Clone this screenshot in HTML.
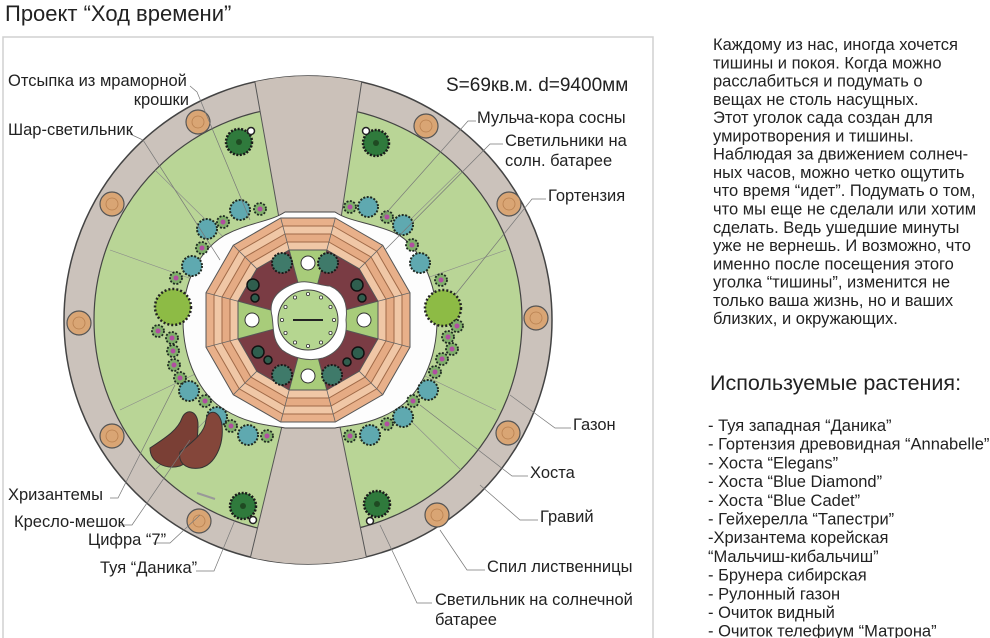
<!DOCTYPE html>
<html><head><meta charset="utf-8"><style>
html,body{margin:0;padding:0;background:#fff;}
svg{display:block;font-family:"Liberation Sans",sans-serif;}
</style></head><body>
<svg width="990" height="638" viewBox="0 0 990 638" xmlns="http://www.w3.org/2000/svg">
<defs>
<clipPath id="outer"><circle cx="308" cy="320" r="244"/></clipPath>
<g id="shB"><circle r="10" fill="#5fa9b0" stroke="#1f2a22" stroke-width="2" stroke-dasharray="2 1.5"/></g>
<g id="shP"><circle r="6" fill="#7fae6a" stroke="#1f2a22" stroke-width="1.8" stroke-dasharray="2 1.5"/><circle r="2.5" fill="#b04fa0"/></g>
<g id="shT"><circle r="10" fill="#3f7a6a" stroke="#1a1a1a" stroke-width="2" stroke-dasharray="2 1.5"/></g>
<g id="stump"><circle r="12" fill="#d9a574" stroke="#555" stroke-width="1.2"/><circle r="6" fill="none" stroke="#b88050" stroke-width="0.8"/></g>
<g id="thuja"><circle r="13" fill="#2f7a3c" stroke="#1a1a1a" stroke-width="2.5" stroke-dasharray="2 1.5"/><circle r="3" fill="#1f4a22"/></g>
</defs>
<rect width="990" height="638" fill="#fff"/>
<rect x="3" y="37" width="650" height="610" fill="none" stroke="#d0d0d0" stroke-width="1.5"/>
<text x="5" y="21" font-size="22" fill="#222">Проект “Ход времени”</text>

<circle cx="308" cy="320" r="244" fill="#cbc2bb" stroke="#444" stroke-width="1.5"/>
<circle cx="308" cy="320" r="214" fill="#b9d596" stroke="#444" stroke-width="1.2"/>
<g stroke="#8a8a8a" stroke-width="0.6">
<line x1="308" y1="320" x2="155" y2="170"/><line x1="308" y1="320" x2="461" y2="170"/>
<line x1="308" y1="320" x2="155" y2="470"/><line x1="308" y1="320" x2="461" y2="470"/>
<line x1="308" y1="320" x2="110" y2="250"/><line x1="308" y1="320" x2="506" y2="250"/>
<line x1="308" y1="320" x2="120" y2="410"/><line x1="308" y1="320" x2="496" y2="410"/>
</g>
<g clip-path="url(#outer)">
<polygon points="251,60 365,60 341,218 279,218" fill="#cbc1b9" stroke="#555" stroke-width="1"/>
<polygon points="283,422 339,422 371,580 245,580" fill="#cbc1b9" stroke="#555" stroke-width="1"/>
</g>
<path d="M183,320 C183,280 200,250 225,235 C250,222 270,222 285,212 L335,212 C350,222 370,222 395,233 C420,245 437,285 437,320 C437,360 420,395 395,410 C370,425 350,425 335,428 L285,428 C270,425 250,425 225,410 C200,395 183,360 183,320 Z" fill="#fdfdfd" stroke="#444" stroke-width="1"/>
<g transform="translate(308,320)">
<polygon points="27.3,-102 74.7,-74.7 102,-27.3 102,27.3 74.7,74.7 27.3,102 -27.3,102 -74.7,74.7 -102,27.3 -102,-27.3 -74.7,-74.7 -27.3,-102" fill="#e8b08a" stroke="#555" stroke-width="1"/>
<polygon points="25.2,-94 68.8,-68.8 94,-25.2 94,25.2 68.8,68.8 25.2,94 -25.2,94 -68.8,68.8 -94,25.2 -94,-25.2 -68.8,-68.8 -25.2,-94" fill="#f0c7a6" stroke="#a06a48" stroke-width="1"/>
<polygon points="23,-86 63,-63 86,-23 86,23 63,63 23,86 -23,86 -63,63 -86,23 -86,-23 -63,-63 -23,-86" fill="#e5ab84" stroke="#a06a48" stroke-width="1"/>
<polygon points="20.9,-78 57.1,-57.1 78,-20.9 78,20.9 57.1,57.1 20.9,78 -20.9,78 -57.1,57.1 -78,20.9 -78,-20.9 -57.1,-57.1 -20.9,-78" fill="#f0c7a6" stroke="#a06a48" stroke-width="1"/>
<polygon points="18.8,-70 51.2,-51.2 70,-18.8 70,18.8 51.2,51.2 18.8,70 -18.8,70 -51.2,51.2 -70,18.8 -70,-18.8 -51.2,-51.2 -18.8,-70" fill="#7a3c44" stroke="#555" stroke-width="1"/>
<g fill="#a8cc7a" stroke="#555" stroke-width="1">
<polygon points="0,0 -18.8,-70 18.8,-70"/><polygon points="0,0 -18.8,70 18.8,70"/>
<polygon points="0,0 -70,-18.8 -70,18.8"/><polygon points="0,0 70,-18.8 70,18.8"/>
</g>
<g stroke="#666" stroke-width="0.8">
<line x1="18.8" y1="-70" x2="27.3" y2="-102"/><line x1="51.2" y1="-51.2" x2="74.7" y2="-74.7"/><line x1="70" y1="-18.8" x2="102" y2="-27.3"/>
<line x1="70" y1="18.8" x2="102" y2="27.3"/><line x1="51.2" y1="51.2" x2="74.7" y2="74.7"/><line x1="18.8" y1="70" x2="27.3" y2="102"/>
<line x1="-18.8" y1="70" x2="-27.3" y2="102"/><line x1="-51.2" y1="51.2" x2="-74.7" y2="74.7"/><line x1="-70" y1="18.8" x2="-102" y2="27.3"/>
<line x1="-70" y1="-18.8" x2="-102" y2="-27.3"/><line x1="-51.2" y1="-51.2" x2="-74.7" y2="-74.7"/><line x1="-18.8" y1="-70" x2="-27.3" y2="-102"/>
</g>
<path d="M-36,-4 C-40,-20 -30,-30 -15,-36 C0,-42 10,-34 22,-34 C36,-28 40,-15 38,0 C40,18 32,32 15,38 C0,42 -15,38 -26,30 C-36,20 -34,10 -36,-4 Z" fill="#fff" stroke="#555" stroke-width="1"/>
<circle r="30" fill="#b5d690" stroke="#444" stroke-width="1"/>
<g fill="#fff" stroke="#333" stroke-width="0.8">
<circle cx="0" cy="-26" r="1.6"/><circle cx="13" cy="-22.5" r="1.6"/><circle cx="22.5" cy="-13" r="1.6"/><circle cx="26" cy="0" r="1.6"/><circle cx="22.5" cy="13" r="1.6"/><circle cx="13" cy="22.5" r="1.6"/><circle cx="0" cy="26" r="1.6"/><circle cx="-13" cy="22.5" r="1.6"/><circle cx="-22.5" cy="13" r="1.6"/><circle cx="-26" cy="0" r="1.6"/><circle cx="-22.5" cy="-13" r="1.6"/><circle cx="-13" cy="-22.5" r="1.6"/>
</g>
<line x1="-15" y1="0" x2="15" y2="0" stroke="#222" stroke-width="2"/>
</g>
<use href="#shT" x="282" y="263"/><use href="#shT" x="328" y="263"/>
<use href="#shT" x="282" y="375"/><use href="#shT" x="332" y="375"/>
<g fill="#2f5e4e" stroke="#111" stroke-width="1.5"><circle cx="253" cy="285" r="6"/><circle cx="357" cy="285" r="6"/><circle cx="258" cy="352" r="6"/><circle cx="358" cy="353" r="6"/><circle cx="255" cy="298" r="4"/><circle cx="362" cy="298" r="4"/><circle cx="268" cy="360" r="4"/><circle cx="347" cy="362" r="4"/></g>
<g fill="#fff" stroke="#333" stroke-width="1"><circle cx="308" cy="263" r="7"/><circle cx="308" cy="376" r="7"/><circle cx="252" cy="320" r="7"/><circle cx="364" cy="320" r="7"/></g>

<use href="#shB" x="240" y="210"/><use href="#shP" x="260" y="209"/><use href="#shP" x="223" y="222"/><use href="#shB" x="207" y="229"/>
<use href="#shP" x="202" y="248"/><use href="#shB" x="192" y="266"/><use href="#shP" x="176" y="278"/>
<circle cx="173" cy="307" r="18" fill="#8dbb45" stroke="#222" stroke-width="2.5" stroke-dasharray="2 2"/>
<use href="#shP" x="158" y="331"/><use href="#shP" x="172" y="338"/><use href="#shP" x="173" y="351"/><use href="#shP" x="174" y="365"/><use href="#shP" x="180" y="378"/>
<use href="#shB" x="189" y="391"/><use href="#shP" x="205" y="401"/><use href="#shB" x="217" y="417"/><use href="#shP" x="231" y="426"/><use href="#shB" x="248" y="435"/><use href="#shP" x="267" y="436"/>
<use href="#shP" x="350" y="207"/><use href="#shB" x="368" y="207"/><use href="#shP" x="387" y="217"/><use href="#shB" x="403" y="225"/>
<use href="#shP" x="412" y="245"/><use href="#shB" x="420" y="263"/><use href="#shP" x="441" y="280"/>
<circle cx="443" cy="308" r="18" fill="#8dbb45" stroke="#222" stroke-width="2.5" stroke-dasharray="2 2"/>
<use href="#shP" x="457" y="326"/><use href="#shP" x="448" y="337"/><use href="#shP" x="452" y="349"/><use href="#shP" x="442" y="359"/><use href="#shP" x="435" y="372"/>
<use href="#shB" x="428" y="390"/><use href="#shP" x="413" y="401"/><use href="#shB" x="403" y="417"/><use href="#shP" x="387" y="424"/><use href="#shB" x="370" y="435"/><use href="#shP" x="350" y="436"/>
<use href="#thuja" x="239" y="142"/><use href="#thuja" x="376" y="143"/><use href="#thuja" x="243" y="506"/><use href="#thuja" x="377" y="504"/>
<g fill="#fff" stroke="#222" stroke-width="1.5"><circle cx="251" cy="131" r="3.5"/><circle cx="366" cy="131" r="3.5"/><circle cx="253" cy="520" r="3.5"/><circle cx="370" cy="521" r="3.5"/></g>
<use href="#stump" x="198" y="122"/><use href="#stump" x="112" y="204"/><use href="#stump" x="79" y="323"/><use href="#stump" x="112" y="436"/><use href="#stump" x="199" y="521"/>
<use href="#stump" x="426" y="126"/><use href="#stump" x="509" y="204"/><use href="#stump" x="536" y="318"/><use href="#stump" x="508" y="433"/><use href="#stump" x="437" y="515"/>
<path d="M150,448 C165,438 178,430 182,418 C186,408 198,410 198,425 C198,440 195,460 180,466 C165,470 150,462 150,448 Z" fill="#7a3f35" stroke="#333" stroke-width="1"/>
<path d="M180,452 C195,440 205,432 206,420 C208,408 220,410 222,425 C224,445 215,465 200,468 C185,470 178,462 180,452 Z" fill="#84463a" stroke="#333" stroke-width="1"/>
<line x1="197" y1="493" x2="215" y2="499" stroke="#999" stroke-width="2"/>

<g fill="none" stroke="#777" stroke-width="0.7">
<polyline points="190,86 197,92 250,220"/>
<polyline points="130,134 143,140 220,260"/>
<polyline points="110,498 118,498 175,385"/>
<polyline points="118,525 132,525 190,440"/>
<polyline points="153,543 170,543 200,515"/>
<polyline points="196,571 214,571 235,520"/>
<polyline points="476,121 468,121 380,220"/>
<polyline points="503,144 490,144 385,250"/>
<polyline points="546,199 532,199 455,295"/>
<polyline points="571,428 555,428 510,395"/>
<polyline points="528,476 512,476 420,405"/>
<polyline points="538,520 520,520 480,485"/>
<polyline points="485,570 467,570 440,530"/>
<polyline points="432,603 417,603 380,525"/>
</g>

<g font-size="16.5" fill="#222">
<text x="8" y="86">Отсыпка из мраморной</text>
<text x="189" y="105" text-anchor="end">крошки</text>
<text x="8" y="135">Шар-светильник</text>
<text x="8" y="500">Хризантемы</text>
<text x="14" y="527">Кресло-мешок</text>
<text x="88" y="545">Цифра “7”</text>
<text x="100" y="573">Туя “Даника”</text>
<text x="477" y="123">Мульча-кора сосны</text>
<text x="505" y="146">Светильники на</text>
<text x="505" y="166">солн. батарее</text>
<text x="548" y="201">Гортензия</text>
<text x="573" y="430">Газон</text>
<text x="530" y="478">Хоста</text>
<text x="540" y="522">Гравий</text>
<text x="487" y="572">Спил лиственницы</text>
<text x="435" y="605">Светильник на солнечной</text>
<text x="435" y="625">батарее</text>
</g>
<text x="446" y="91" font-size="19" fill="#222">S=69кв.м.  d=9400мм</text>

<g font-size="16.5" fill="#222">
<text x="713" y="50">Каждому из нас, иногда хочется</text>
<text x="713" y="68.3">тишины и покоя. Когда можно</text>
<text x="713" y="86.5">расслабиться и подумать о</text>
<text x="713" y="104.8">вещах не столь насущных.</text>
<text x="713" y="123">Этот уголок сада создан для</text>
<text x="713" y="141.3">умиротворения и тишины.</text>
<text x="713" y="159.6">Наблюдая за движением солнеч-</text>
<text x="713" y="177.9">ных часов, можно четко ощутить</text>
<text x="713" y="196.2">что время “идет”. Подумать о том,</text>
<text x="713" y="214.5">что мы еще не сделали или хотим</text>
<text x="713" y="232.8">сделать. Ведь ушедшие минуты</text>
<text x="713" y="251">уже не вернешь. И возможно, что</text>
<text x="713" y="269.3">именно после посещения этого</text>
<text x="713" y="287.6">уголка “тишины”, изменится не</text>
<text x="713" y="305.9">только ваша жизнь, но и ваших</text>
<text x="713" y="324.2">близких, и окружающих.</text>
</g>
<text x="710" y="390" font-size="21.5" fill="#222">Используемые растения:</text>
<g font-size="16.5" fill="#222">
<text x="708" y="431">- Туя западная “Даника”</text>
<text x="708" y="449.7">- Гортензия древовидная “Annabelle”</text>
<text x="708" y="468.4">- Хоста “Elegans”</text>
<text x="708" y="487.1">- Хоста “Blue Diamond”</text>
<text x="708" y="505.8">- Хоста “Blue Cadet”</text>
<text x="708" y="524.5">- Гейхерелла “Тапестри”</text>
<text x="708" y="543.2">-Хризантема корейская</text>
<text x="708" y="561.9">“Мальчиш-кибальчиш”</text>
<text x="708" y="580.6">- Брунера сибирская</text>
<text x="708" y="599.3">- Рулонный газон</text>
<text x="708" y="618">- Очиток видный</text>
<text x="708" y="636.7">- Очиток телефиум “Матрона”</text>
</g>
</svg>
</body></html>
